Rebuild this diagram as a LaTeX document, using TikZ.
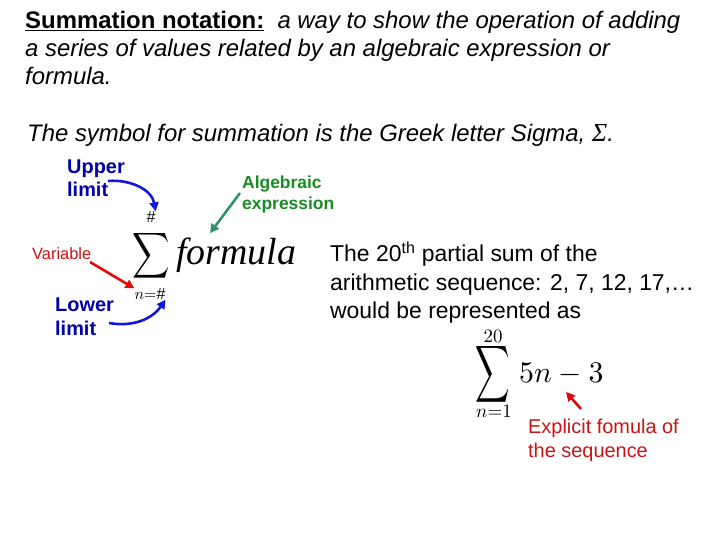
\documentclass[tikz,border=0pt]{standalone}
\usepackage{fontspec}
\setmainfont{Liberation Sans}
\newfontfamily\timesgr{Liberation Serif}
\usetikzlibrary{arrows.meta}
\definecolor{LimBlue}{RGB}{0,0,170}
\definecolor{ArrBlue}{RGB}{15,25,215}
\definecolor{VarRed}{RGB}{200,20,20}
\definecolor{ArrRed}{RGB}{225,10,10}
\definecolor{ExpGreen}{RGB}{25,140,35}
\definecolor{ArrTeal}{RGB}{50,145,110}

\begin{document}
\begin{tikzpicture}[x=1bp, y=-1bp,
          txt/.style={anchor=base west, inner sep=0pt,
                      font=\fontsize{24}{28}\selectfont},
          ptxt/.style={anchor=base west, inner sep=0pt,
                      font=\fontsize{23}{28}\selectfont},
          lim/.style={anchor=base west, inner sep=0pt, align=left,
                      text=LimBlue, font=\fontsize{20}{24}\selectfont\bfseries},
          mth/.style={inner sep=0pt},
          arr/.style={-{Triangle[length=9pt,width=9pt]}, line width=2.6pt}
        ]
        \useasboundingbox (0,0) rectangle (720,540);

        % Definition
        \node[txt] (def1) at (25,29)
              {\textbf{\underline{Summation notation:}}\ \ \textit{a way to show the operation of adding}};
        \node[txt] (def2) at (25,57)
              {\textit{a series of values related by an algebraic expression or}};
        \node[txt] (def3) at (25,85) {\textit{formula.}};
        \node[txt] (sym) at (27,142)
              {\textit{The symbol for summation is the Greek letter Sigma, {\timesgr\fontsize{26}{28}\selectfont Σ}.}};

        % Generic summation
        \node[mth] (sig) at (151,256) {\scalebox{2.6}[3.2]{$\displaystyle\sum$}};
        \node[mth] (top) at (151,217) {\scalebox{1.6}{$\#$}};
        \node[mth] (bot) at (150,294) {\scalebox{1.6}{$n{=}\#$}};
        \node[anchor=base west, inner sep=0pt,
              font=\fontsize{38}{38}\selectfont\timesgr\itshape] (frm) at (176,265) {formula};

        % Labels (base = last line)
        \node[lim] (upl) at (67,197) {Upper\\limit};
        \node[lim] (lowl) at (55,335) {Lower\\limit};
        \node[anchor=base west, inner sep=0pt, text=VarRed,
              font=\fontsize{16.5}{20}\selectfont] (var) at (32,260) {Variable};
        \node[anchor=base west, inner sep=0pt, align=left, text=ExpGreen,
              font=\fontsize{17.5}{22}\selectfont\bfseries] (alg) at (242,210)
              {Algebraic\\expression};

        % Arrows
        \coordinate (ut) at (108,181);
        \coordinate (lt) at (109,323);
        \coordinate (vt) at (90,262);
        \coordinate (gt) at (240,193);
        \draw[arr, ArrBlue] (ut) to[out=5, in=100] (top.north east);
        \draw[arr, ArrBlue] (lt) to[out=-10, in=-125] (bot.south east);
        \draw[arr, ArrRed] (vt) -- (bot.north west);
        \draw[arr, ArrTeal] (gt) -- ([xshift=34bp,yshift=5bp]frm.north west);

        % Example
        \node[ptxt] (ex1) at (330,262) {The 20\textsuperscript{th} partial sum of the};
        \node[ptxt] (ex2) at (330,290) {arithmetic sequence: 2, 7, 12, 17,\dots};
        \node[ptxt] (ex3) at (330,318) {would be represented as};

        \node[mth] (sig2) at (493,374) {\scalebox{2.4}[4.0]{$\displaystyle\sum$}};
        \node[mth] (top2) at (493,336) {\scalebox{1.9}{$20$}};
        \node[mth] (bot2) at (494,411) {\scalebox{1.9}{$n{=}1$}};
        \node[anchor=base west, inner sep=0pt] (expr) at (519,382) {\scalebox{3}{$5n-3$}};

        \node[anchor=base west, inner sep=0pt, align=left, text=VarRed,
              font=\fontsize{20}{24}\selectfont] (expl) at (528,457)
              {Explicit fomula of\\the sequence};
        \coordinate (et) at (581,409);
        \draw[arr, ArrRed] (et) -- (566,392);
      \end{tikzpicture}
\end{document}
